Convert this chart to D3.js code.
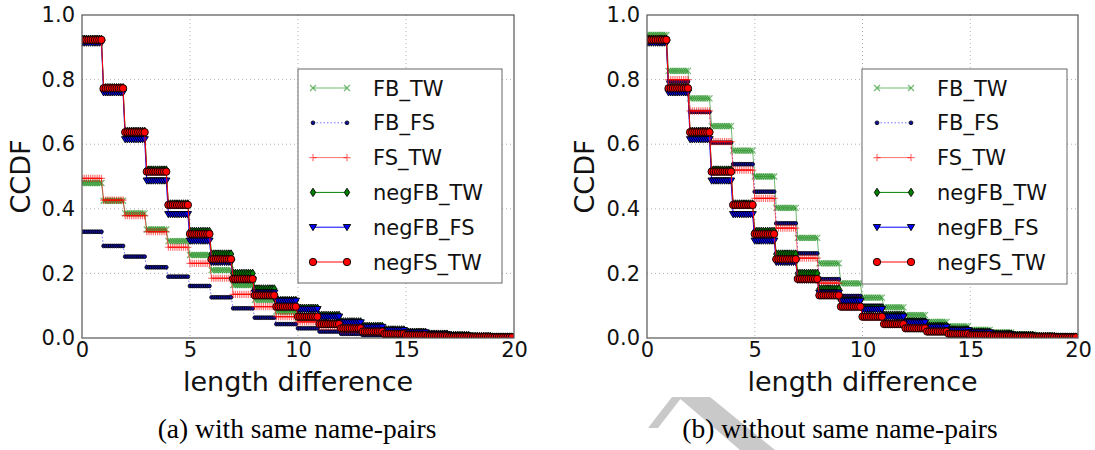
<!DOCTYPE html>
<html><head><meta charset="utf-8">
<script src="https://cdn.jsdelivr.net/npm/d3@7"></script>
<style>
html,body{margin:0;padding:0;background:#fff;}
svg{display:block;font-family:"DejaVu Sans",sans-serif;}
</style></head>
<body><svg id="c" width="1095" height="450"></svg>
<script>
// ---------- data ----------
const seriesNames = ["FB_TW","FB_FS","FS_TW","negFB_TW","negFB_FS","negFS_TW"];
const xTicks = [0,5,10,15,20];
const yTicks = [0.0,0.2,0.4,0.6,0.8,1.0];
const steps = d3.range(0,20); // length difference 0..19
const captions = ["(a) with same name-pairs","(b) without same name-pairs"];

// panel (a): with same name-pairs
const a_FB_TW    = [0.480,0.425,0.386,0.336,0.300,0.257,0.210,0.164,0.118,0.082,0.062,0.046,0.034,0.025,0.018,0.012,0.008,0.005,0.003,0.002];
const a_FB_FS    = [0.329,0.285,0.252,0.219,0.190,0.161,0.126,0.092,0.063,0.043,0.030,0.020,0.013,0.009,0.006,0.004,0.003,0.002,0.001,0.001];
const a_FS_TW    = [0.494,0.427,0.379,0.329,0.281,0.231,0.185,0.135,0.097,0.066,0.050,0.035,0.025,0.018,0.012,0.008,0.006,0.004,0.002,0.001];
const a_negFB_TW = [0.925,0.775,0.640,0.520,0.415,0.330,0.260,0.200,0.152,0.116,0.092,0.070,0.050,0.036,0.025,0.018,0.012,0.008,0.005,0.003];
const a_negFB_FS = [0.914,0.760,0.615,0.487,0.383,0.301,0.235,0.180,0.140,0.115,0.089,0.066,0.048,0.034,0.024,0.017,0.011,0.007,0.005,0.003];
const a_negFS_TW = [0.923,0.773,0.637,0.515,0.412,0.322,0.244,0.183,0.132,0.097,0.066,0.043,0.030,0.020,0.013,0.009,0.006,0.004,0.003,0.002];

// panel (b): without same name-pairs
const b_FB_TW    = [0.938,0.827,0.742,0.656,0.580,0.500,0.403,0.310,0.231,0.169,0.125,0.095,0.071,0.050,0.036,0.025,0.017,0.011,0.007,0.004];
const b_FB_FS    = [0.914,0.794,0.700,0.605,0.538,0.453,0.355,0.262,0.182,0.130,0.100,0.075,0.055,0.040,0.028,0.019,0.013,0.008,0.005,0.003];
const b_FS_TW    = [0.928,0.800,0.703,0.608,0.520,0.432,0.340,0.247,0.170,0.120,0.090,0.067,0.048,0.034,0.024,0.016,0.011,0.007,0.004,0.002];
const b_negFB_TW = a_negFB_TW;
const b_negFB_FS = a_negFB_FS;
const b_negFS_TW = a_negFS_TW;

const panelA = [a_FB_TW,a_FB_FS,a_FS_TW,a_negFB_TW,a_negFB_FS,a_negFS_TW];
const panelB = [b_FB_TW,b_FB_FS,b_FS_TW,b_negFB_TW,b_negFB_FS,b_negFS_TW];

// ---------- styles ----------
const styles = [
  {color:"#008000", alpha:0.55, dash:null,  marker:"x"},
  {color:"#0000ff", alpha:0.55, dash:"1.5,2", marker:"."},
  {color:"#ff0000", alpha:0.55, dash:null,  marker:"+"},
  {color:"#008000", alpha:1,   dash:null,  marker:"d"},
  {color:"#0000ff", alpha:1,   dash:null,  marker:"v"},
  {color:"#ff0000", alpha:1,   dash:null,  marker:"o"}
];

const svg = d3.select("#c");

// watermark (light grey strokes behind the caption of panel b)
svg.append("path").attr("d","M678,397L710,397L775,450L740,450Z").attr("fill","#c9c9c9");
svg.append("path").attr("d","M672,397L682,397L658,428L648,428Z").attr("fill","#c9c9c9");

function drawMarker(g, type, x, y, color, alpha){
  if(type==="o"){
    g.append("circle").attr("cx",x).attr("cy",y).attr("r",3.7)
      .attr("fill",color).attr("stroke","#000").attr("stroke-width",0.9);
  } else if(type==="d"){
    g.append("path").attr("d",`M${x},${y-4.2}L${x+2.7},${y}L${x},${y+4.2}L${x-2.7},${y}Z`)
      .attr("fill",color).attr("stroke","#000").attr("stroke-width",0.9);
  } else if(type==="v"){
    g.append("path").attr("d",`M${x-3.7},${y-2.7}L${x+3.7},${y-2.7}L${x},${y+3.5}Z`)
      .attr("fill",color).attr("stroke","#000").attr("stroke-width",0.9);
  } else if(type==="."){
    g.append("circle").attr("cx",x).attr("cy",y).attr("r",1.9)
      .attr("fill","#1010a0").attr("stroke","#000").attr("stroke-width",0.8);
  } else if(type==="+"){
    g.append("path").attr("d",`M${x-3.6},${y}H${x+3.6}M${x},${y-3.6}V${y+3.6}`)
      .attr("stroke",color).attr("stroke-width",1.2).attr("opacity",alpha);
  } else if(type==="x"){
    g.append("path").attr("d",`M${x-3},${y-3}L${x+3},${y+3}M${x-3},${y+3}L${x+3},${y-3}`)
      .attr("stroke",color).attr("stroke-width",1.2).attr("opacity",alpha);
  }
}

function panel(data, left, right, top, bottom, legendBox, caption, ylabelX, captionX){
  const x = d3.scaleLinear().domain([0,20]).range([left,right]);
  const y = d3.scaleLinear().domain([0,1]).range([bottom,top]);
  const g = svg.append("g");

  // grid
  g.selectAll(".gx").data(xTicks.filter(t=>t>0&&t<20)).join("line")
    .attr("x1",d=>x(d)).attr("x2",d=>x(d)).attr("y1",top).attr("y2",bottom)
    .attr("stroke","#b0b0b0").attr("stroke-width",1).attr("stroke-dasharray","1,3");
  g.selectAll(".gy").data(yTicks.filter(t=>t>0&&t<1)).join("line")
    .attr("y1",d=>y(d)).attr("y2",d=>y(d)).attr("x1",left).attr("x2",right)
    .attr("stroke","#b0b0b0").attr("stroke-width",1).attr("stroke-dasharray","1,3");

  // clip
  const cid = "clip"+left;
  svg.append("clipPath").attr("id",cid).append("rect")
    .attr("x",left).attr("y",top-6).attr("width",right-left).attr("height",bottom-top+6);
  const pg = g.append("g").attr("clip-path",`url(#${cid})`);

  data.forEach((vals,i)=>{
    const st = styles[i];
    const pts = [];
    steps.forEach(k=>{
      for(let j=0;j<10;j++) pts.push([k+j/10, vals[k]]);
    });
    pts.push([20, vals[19]]);
    const line = d3.line().x(d=>x(d[0])).y(d=>y(d[1]));
    pg.append("path").datum(pts).attr("d",line).attr("fill","none")
      .attr("stroke",st.color).attr("stroke-width",1)
      .attr("stroke-opacity",st.alpha)
      .attr("stroke-dasharray",st.dash);
    const mg = pg.append("g");
    pts.slice(0,-1).forEach(p=>drawMarker(mg, st.marker, x(p[0]), y(p[1]), st.color, st.alpha));
  });

  // frame
  g.append("rect").attr("x",left).attr("y",top).attr("width",right-left).attr("height",bottom-top)
    .attr("fill","none").attr("stroke","#555").attr("stroke-width",1.2);

  // axes (labels only)
  const xa = g.append("g").attr("transform",`translate(0,${bottom})`)
    .call(d3.axisBottom(x).tickValues(xTicks).tickSize(0).tickPadding(4).tickFormat(d3.format("d")));
  xa.select(".domain").remove();
  xa.selectAll("text").attr("font-size",21).attr("font-family","DejaVu Sans").attr("fill","#111");
  const ya = g.append("g").attr("transform",`translate(${left},0)`)
    .call(d3.axisLeft(y).tickValues(yTicks).tickSize(0).tickPadding(7).tickFormat(d3.format(".1f")));
  ya.select(".domain").remove();
  ya.selectAll("text").attr("font-size",21).attr("font-family","DejaVu Sans").attr("fill","#111");

  // axis titles
  g.append("text").attr("x",(left+right)/2).attr("y",bottom+53).attr("text-anchor","middle")
    .attr("font-size",27).attr("fill","#111").text("length difference");
  g.append("text").attr("transform",`translate(${ylabelX},${(top+bottom)/2}) rotate(-90)`)
    .attr("text-anchor","middle").attr("font-size",27).attr("fill","#111").text("CCDF");

  // legend
  const lg = g.append("g");
  lg.append("rect").attr("x",legendBox[0]).attr("y",legendBox[1])
    .attr("width",legendBox[2]-legendBox[0]).attr("height",legendBox[3]-legendBox[1])
    .attr("fill","#fff").attr("stroke","#666").attr("stroke-width",1);
  seriesNames.forEach((name,i)=>{
    const st = styles[i];
    const yy = legendBox[1]+19+i*34.8;
    const x1 = legendBox[0]+15, x2 = legendBox[0]+49;
    lg.append("line").attr("x1",x1).attr("x2",x2).attr("y1",yy).attr("y2",yy)
      .attr("stroke",st.color).attr("stroke-width",1).attr("stroke-opacity",st.alpha)
      .attr("stroke-dasharray",st.dash);
    drawMarker(lg, st.marker, x1, yy, st.color, st.alpha);
    drawMarker(lg, st.marker, x2, yy, st.color, st.alpha);
    lg.append("text").attr("x",legendBox[0]+75).attr("y",yy).attr("dy","0.36em")
      .attr("font-size",21).attr("fill","#111").text(name);
  });

  // caption
  svg.append("text").attr("x",captionX).attr("y",438).attr("text-anchor","middle")
    .attr("font-family","Liberation Serif, Times New Roman, serif").attr("font-size",27.5)
    .attr("fill","#000").text(caption);
}

panel(panelA, 82, 514, 15, 338, [298,69,502,283], captions[0], 30, 297);
panel(panelB, 647, 1078, 15, 338, [862,69,1067,284], captions[1], 594, 840);
</script>
</body></html>
